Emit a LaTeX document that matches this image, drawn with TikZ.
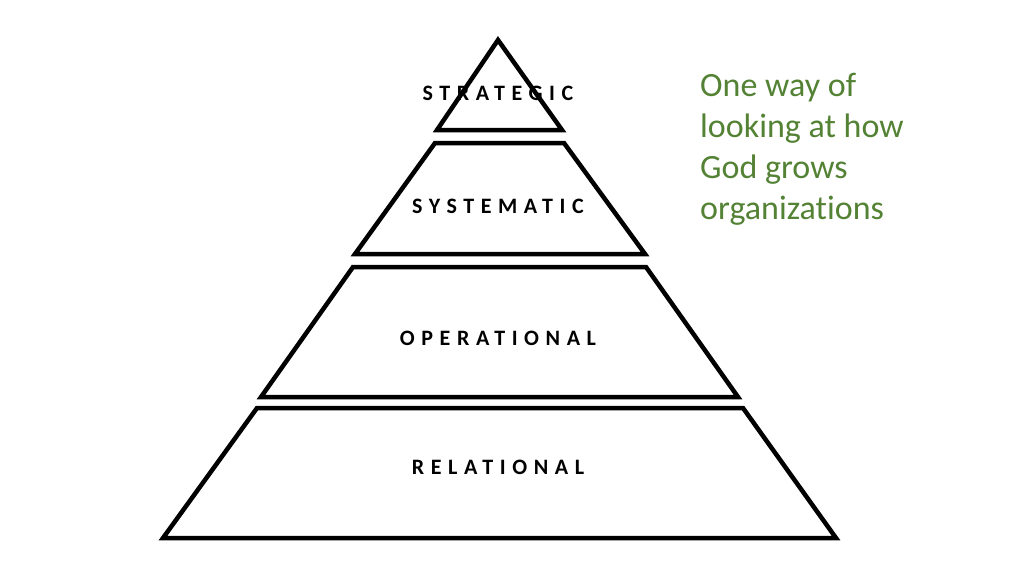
\documentclass[tikz,border=0pt]{standalone}
\usepackage{fontspec}
\setmainfont{Carlito}[Ligatures={NoCommon}]
\newfontfamily\tierfont[LetterSpace=30]{Carlito}
\usepackage{xcolor}
\definecolor{notegreen}{HTML}{548235}
\usetikzlibrary{positioning}

\tikzset{
  tier/.style={draw=black, line width=4.5pt, line join=miter},
  tierlabel/.style={font=\tierfont\bfseries\fontsize{22}{26}\selectfont, inner sep=0pt},
  note/.style={font=\fontsize{34}{41}\selectfont, text=notegreen, align=left, inner sep=0pt}
}

\begin{document}
\begin{tikzpicture}[x=1pt, y=-1pt]
\useasboundingbox (0,0) rectangle (1024,576);

% Strategic
\draw[tier] (498,40) -- (562,130) -- (437,130) -- cycle;
\node[tierlabel] (strategic) at (498,93) {STRATEGIC};

% Systematic
\draw[tier] (435,143) -- (564,143) -- (645,254) -- (355,254) -- cycle;
\node[tierlabel] (systematic) at (498,206) {SYSTEMATIC};

% Operational
\draw[tier] (353,267) -- (646,267) -- (738,397) -- (261,397) -- cycle;
\node[tierlabel] (operational) at (498,338) {OPERATIONAL};

% Relational
\draw[tier] (257,408) -- (743,408) -- (836,538) -- (163,538) -- cycle;
\node[tierlabel] (relational) at (498,467) {RELATIONAL};

% Side note
\node[note, anchor=north west] (sidenote) at (700,73) {One way of\\looking at how\\God grows\\organizations};
\end{tikzpicture}
\end{document}
